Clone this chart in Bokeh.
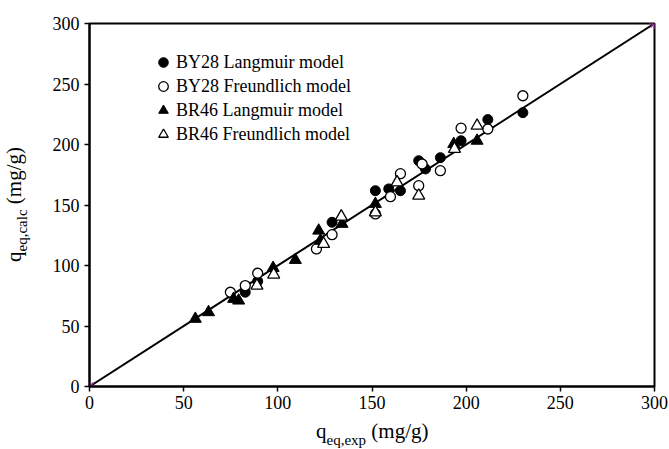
from bokeh.plotting import figure
from bokeh.models import Range1d, FixedTicker, Legend, LegendItem, Div
from bokeh.layouts import row, column
from bokeh.embed import file_html
from bokeh.resources import INLINE

# ---- data ----
by28_lang_x = [82.7, 89.3, 128.8, 151.8, 158.9, 165.1, 174.8, 178.4, 186.3, 197.3, 211.5, 230.1]
by28_lang_y = [77.9, 87.0, 135.7, 161.8, 163.3, 161.8, 186.6, 179.8, 189.1, 203.1, 220.6, 226.3]

by28_freu_x = [74.8, 82.7, 89.3, 120.5, 128.8, 151.8, 159.8, 165.1, 174.8, 176.6, 186.3, 197.3, 211.5, 230.1]
by28_freu_y = [77.9, 83.4, 93.6, 113.7, 125.5, 142.6, 156.9, 175.9, 166.0, 183.9, 178.4, 213.5, 212.8, 240.3]

br46_lang_x = [56.2, 63.2, 76.5, 79.2, 97.5, 109.3, 121.7, 122.6, 134.1, 151.8, 193.4, 205.8]
br46_lang_y = [55.9, 61.4, 72.4, 71.0, 98.0, 104.6, 128.8, 120.6, 134.4, 150.9, 200.4, 203.1]

br46_freu_x = [88.9, 97.8, 124.3, 133.7, 151.8, 163.3, 174.8, 193.8, 205.8]
br46_freu_y = [83.4, 92.5, 117.8, 140.4, 143.9, 168.7, 157.7, 196.3, 215.5]

diag_x = [0, 300]
diag_y = [0, 300]

x_ticks = [0, 50, 100, 150, 200, 250, 300]
y_ticks = [0, 50, 100, 150, 200, 250, 300]

series_labels = ["BY28 Langmuir model", "BY28 Freundlich model",
                 "BR46 Langmuir model", "BR46 Freundlich model"]
x_title = ("q", "eq,exp", " (mg/g)")
y_title = ("q", "eq,calc", " (mg/g)")

FONT = "Liberation Serif"

p = figure(width=639, height=419, output_backend="svg", toolbar_location=None,
           x_range=Range1d(0, 300), y_range=Range1d(0, 300),
           min_border_left=59, min_border_right=15, min_border_top=23, min_border_bottom=33)
p.xgrid.visible = False
p.ygrid.visible = False
p.outline_line_color = "black"
p.outline_line_width = 2
p.background_fill_color = "white"
p.border_fill_color = "white"

for ax, ticks in ((p.xaxis[0], x_ticks), (p.yaxis[0], y_ticks)):
    ax.ticker = FixedTicker(ticks=ticks)
    ax.axis_line_width = 2
    ax.axis_line_color = "black"
    ax.major_tick_out = 5
    ax.major_tick_in = 0
    ax.minor_tick_out = 0
    ax.minor_tick_in = 0
    ax.major_tick_line_width = 1.5
    ax.major_tick_line_color = "black"
    ax.major_label_text_font = FONT
    ax.major_label_text_font_size = "18px"
    ax.major_label_text_color = "black"
p.xaxis.major_label_standoff = 4
p.yaxis.major_label_standoff = 5

# 1:1 line
p.line(diag_x, diag_y, line_color="black", line_width=2)

r1 = p.scatter(by28_lang_x, by28_lang_y, marker="circle", size=10,
               fill_color="black", line_color="black", line_width=1)
r2 = p.scatter(by28_freu_x, by28_freu_y, marker="circle", size=10,
               fill_color="white", line_color="black", line_width=1.3)
r3 = p.scatter(br46_lang_x, br46_lang_y, marker="triangle", size=12,
               fill_color="black", line_color="black", line_width=1)
r4 = p.scatter(br46_freu_x, br46_freu_y, marker="triangle", size=12,
               fill_color="white", line_color="black", line_width=1.3)

p.scatter(diag_x, diag_y, marker="asterisk", size=11, line_color="#a030a0", line_width=1.5)

legend = Legend(items=[LegendItem(label=series_labels[0], renderers=[r1]),
                       LegendItem(label=series_labels[1], renderers=[r2]),
                       LegendItem(label=series_labels[2], renderers=[r3]),
                       LegendItem(label=series_labels[3], renderers=[r4])],
                location=(62, 240), padding=0, margin=0, spacing=0,
                glyph_width=24, glyph_height=24, label_height=24, label_standoff=1,
                border_line_color=None, background_fill_alpha=0,
                label_text_font=FONT, label_text_font_size="18px",
                label_text_color="black")
p.add_layout(legend)

# ---- axis titles with real subscripts (HTML text) ----
span_style = ("position:absolute;white-space:nowrap;font-family:'Liberation Serif';"
              "font-size:21px;line-height:21px;color:black;")
sub_style = "font-size:15px;position:relative;top:%dpx;"

xdiv = Div(width=669, height=30, margin=0, text=(
    '<div style="position:relative;width:669px;height:30px;">'
    '<span style="%sleft:316px;top:2px;">%s<span style="%s">%s</span>%s</span></div>'
    % (span_style, x_title[0], sub_style % 7, x_title[1], x_title[2])))

ydiv = Div(width=30, height=419, margin=0, text=(
    '<div style="position:relative;width:30px;height:419px;">'
    '<span style="%sleft:4px;top:262px;transform:rotate(-90deg);transform-origin:0 0;">'
    '%s<span style="%s">%s</span>%s</span></div>'
    % (span_style, y_title[0], sub_style % 6, y_title[1], y_title[2])))

layout = column(row(ydiv, p, spacing=0), xdiv, spacing=0)

open("out.html", "w").write(file_html(layout, INLINE))
